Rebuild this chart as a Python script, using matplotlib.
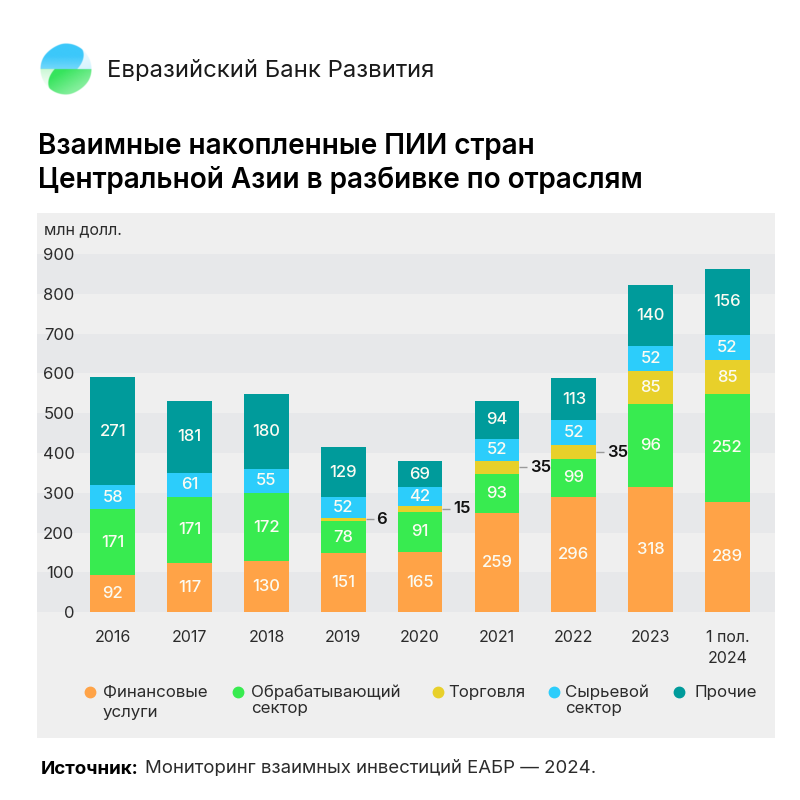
import matplotlib
matplotlib.use('Agg')
import matplotlib.pyplot as plt
import numpy as np
from matplotlib.lines import Line2D
from matplotlib.patches import Rectangle

plt.rcParams['font.family'] = ['Inter', 'DejaVu Sans']

years = ['2016', '2017', '2018', '2019', '2020', '2021', '2022', '2023', '1 пол.\n2024']

# bar heights as drawn in the picture
finance = [94, 124, 129, 148, 152, 249, 290, 314, 278]
manufacturing = [165, 166, 170, 81, 100, 99, 96, 208, 270]
trade = [0, 0, 0, 9, 16, 33, 33, 84, 85]
resources = [60, 60, 62, 51, 46, 55, 63, 64, 63]
other = [271, 181, 188, 125, 65, 95, 106, 151, 167]

# numbers printed on the bars
finance_labels = [92, 117, 130, 151, 165, 259, 296, 318, 289]
manufacturing_labels = [171, 171, 172, 78, 91, 93, 99, 96, 252]
trade_labels = [None, None, None, 6, 15, 35, 35, 85, 85]
resources_labels = [58, 61, 55, 52, 42, 52, 52, 52, 52]
other_labels = [271, 181, 180, 129, 69, 94, 113, 140, 156]

series_names = ['Финансовые\nуслуги', 'Обрабатывающий\nсектор', 'Торговля', 'Сырьевой\nсектор', 'Прочие']
colors = ['#FFA347', '#38EB50', '#E8D02A', '#2CCDFB', '#009B9B']

TEXT = '#2b2b2b'
W, H = 800, 800


def fx(x):
    return x / W


def fy(y):
    return 1 - y / H


def main():
    fig = plt.figure(figsize=(8, 8), dpi=100, facecolor='white')

    # grey panel behind the chart
    fig.add_artist(Rectangle((fx(37), fy(738)), 738 / W, 525 / H, transform=fig.transFigure,
                             facecolor='#EFEFEF', edgecolor='none', zorder=-5))

    # logo
    logo_ax = fig.add_axes([fx(38), fy(97), 56 / W, 56 / H])
    t = np.linspace(-1.08, 1.08, 220)
    u, v = np.meshgrid(t, t)
    r = np.hypot(u, v)
    a = np.radians(32)

    def blob(cx, cy):
        p = (u - cx) * np.cos(a) + (v - cy) * np.sin(a)
        q = -(u - cx) * np.sin(a) + (v - cy) * np.cos(a)
        return np.clip(((p / 0.92) ** 2 + (q / 0.62) ** 2 - 1) * -12 + 0.5, 0, 1)

    img = np.ones((220, 220, 4))
    img[..., 3] = 0
    top = v > 0
    img[top, :3] = matplotlib.colors.to_rgb('#3CC8FA')
    img[~top, :3] = matplotlib.colors.to_rgb('#35E45C')
    alpha_top = np.maximum(blob(-0.16, 0.3) * (0.72 + 0.28 * np.clip(v * 2, 0, 1)),
                           0.28 * np.clip(0.6 + u * 0.2 - v * 0.6, 0, 1))
    alpha_bot = np.maximum(blob(0.16, -0.3) * (0.62 + 0.38 * np.clip(-u * 0.6 + v + 1, 0, 1)),
                           0.32 * np.clip(0.8 + v * 1.0, 0, 1))
    img[..., 3] = np.where(top, alpha_top, alpha_bot) * np.clip((1 - r) * 40, 0, 1)
    logo_ax.imshow(img, extent=(-1.08, 1.08, -1.08, 1.08), origin='lower', interpolation='bilinear')
    logo_ax.axis('off')

    # header and title
    fig.text(fx(107), fy(71), 'Евразийский Банк Развития', fontsize=17.2, color='#1a1a1a',
             va='center', ha='left')
    fig.text(fx(38), fy(146), 'Взаимные накопленные ПИИ стран', fontsize=20.1, weight='semibold',
             color='black', va='center', ha='left')
    fig.text(fx(38), fy(180), 'Центральной Азии в разбивке по отраслям', fontsize=20.1, weight='semibold',
             color='black', va='center', ha='left')
    fig.text(fx(44), fy(230), 'млн долл.', fontsize=11.5, color=TEXT, va='center', ha='left')

    # plot area: 0 at y=612.3, 900 at y=254
    ax = fig.add_axes([fx(37), fy(612.3), 738 / W, 358.3 / H])
    ax.set_facecolor('#EFEFEF')
    ax.set_ylim(0, 900)
    step = 76.85
    ax.set_xlim((37 - 112.7) / step, (775 - 112.7) / step)
    for low in range(0, 900, 200):
        ax.axhspan(low, low + 100, color='#E7E8EA', lw=0, zorder=0)

    x = np.arange(len(years))
    width = 44.7 / step
    segments = [finance, manufacturing, trade, resources, other]
    labels = [finance_labels, manufacturing_labels, trade_labels, resources_labels, other_labels]
    bottom = np.zeros(len(years))
    for values, label_row, color in zip(segments, labels, colors):
        values = np.array(values)
        ax.bar(x, values, width, bottom=bottom, color=color, lw=0, zorder=2)
        for i, label in enumerate(label_row):
            if label is None:
                continue
            mid = bottom[i] + values[i] / 2
            if values[i] < 40:
                # thin segment, number goes beside the bar
                edge = x[i] + width / 2
                ax.plot([edge, edge + 8 / step], [mid, mid], color='#9a9a9a', lw=1, zorder=1,
                        solid_capstyle='butt')
                ax.text(edge + 10.5 / step, mid, str(label), fontsize=12, weight='semibold',
                        color='#111111', va='center', ha='left', zorder=3)
            else:
                ax.text(x[i], mid, str(label), fontsize=12, weight='medium', color='#FBFBF2',
                        va='center', ha='center', zorder=3)
        bottom = bottom + values

    ax.set_yticks(range(0, 1000, 100))
    ax.tick_params(axis='y', length=0, pad=-27, labelsize=12, labelcolor=TEXT)
    for tick in ax.get_yticklabels():
        tick.set_zorder(3)
    ax.set_xticks(x)
    ax.set_xticklabels(years, linespacing=1.45)
    ax.tick_params(axis='x', length=0, pad=13, labelsize=11.5, labelcolor=TEXT)
    for spine in ax.spines.values():
        spine.set_visible(False)

    # legend
    dot_x = [90, 238, 438, 554, 679]
    text_x = [103, 251, 448, 565, 695]
    second_line_y = [712, 709, 0, 709, 0]
    for name, color, dx, tx, y2 in zip(series_names, colors, dot_x, text_x, second_line_y):
        fig.add_artist(Line2D([fx(dx)], [fy(691.5)], marker='o', ms=7.5, color=color, lw=0,
                              transform=fig.transFigure))
        parts = name.split('\n')
        fig.text(fx(tx), fy(692), parts[0], fontsize=12.2, color=TEXT, va='center', ha='left')
        if len(parts) > 1:
            fig.text(fx(tx), fy(y2), parts[1], fontsize=12.2, color=TEXT, va='center', ha='left')

    # source
    fig.text(fx(41), fy(769), 'Источник:', fontsize=13.5, weight='bold', color='black', va='center', ha='left')
    fig.text(fx(145), fy(769), 'Мониторинг взаимных инвестиций ЕАБР — 2024.', fontsize=13.4, color=TEXT,
             va='center', ha='left')

    fig.savefig('out.png', dpi=100, facecolor='white')


if __name__ == '__main__':
    main()
